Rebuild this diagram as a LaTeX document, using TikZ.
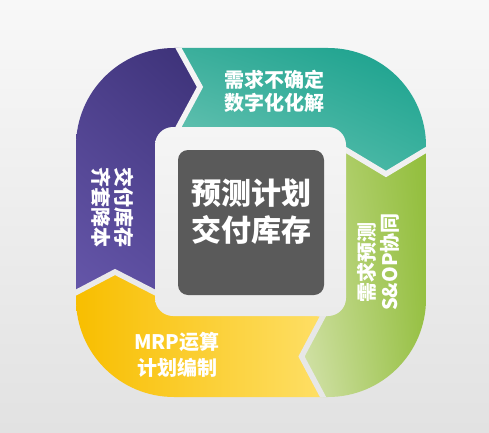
\documentclass[tikz,border=0pt]{standalone}
\usepackage{fontspec}
\usetikzlibrary{shadings}
\setmainfont{Noto Sans CJK SC}
\definecolor{bgtop}{HTML}{F8F8F8}
\definecolor{bgbot}{HTML}{E2E2E2}
\definecolor{darkbox}{HTML}{5A5A5A}
\definecolor{pUR}{HTML}{3C3177}
\definecolor{pUL}{HTML}{4A3D88}
\definecolor{pLL}{HTML}{6556A9}
\definecolor{pLR}{HTML}{5A4C9E}
\definecolor{tUR}{HTML}{17A08C}
\definecolor{tUL}{HTML}{3CAF9C}
\definecolor{tLL}{HTML}{72C8B8}
\definecolor{tLR}{HTML}{40B4A1}
\definecolor{gUL}{HTML}{BBD57C}
\definecolor{gLL}{HTML}{D5E3AE}
\definecolor{gUR}{HTML}{92BE3C}
\definecolor{gLR}{HTML}{98C146}
\definecolor{yL}{HTML}{F8BE00}
\definecolor{yM}{HTML}{FBC800}
\definecolor{yR}{HTML}{FEDF66}
\definecolor{gapA}{HTML}{F4F4F4}
\definecolor{gapB}{HTML}{F0F0F0}
\definecolor{gapC}{HTML}{E7E7E7}
\definecolor{gapD}{HTML}{EAEAEA}
\definecolor{frameT}{HTML}{F5F5F5}
\definecolor{frameB}{HTML}{EBEBEB}
\begin{document}
\begin{tikzpicture}[x=1pt,y=1pt,
  segtext/.style={text=white, font=\bfseries\fontsize{20}{23}\selectfont, align=center, inner sep=0pt},
  gapline/.style={line width=5.5pt, line join=miter, miter limit=20}]
\useasboundingbox (0,0) rectangle (489,432);
\shade[top color=bgtop, bottom color=bgbot] (0,0) rectangle (489,432);
\begin{scope}
  \clip[rounded corners=98pt] (76,35) rectangle (426,384);
  % purple
  \begin{scope}
    \clip (0,450) -- (178.5,450) -- (178.5,384) -- (200,345) -- (178.5,305) -- (178.5,139.5) -- (155,139.5) -- (115,160) -- (76,139.5) -- (0,139.5) -- cycle;
    \shade[upper left=pUL, upper right=pUR, lower left=pLL, lower right=pLR] (76,139) rectangle (200,384);
  \end{scope}
  % teal
  \begin{scope}
    \clip (178.5,450) -- (500,450) -- (500,282) -- (426,282) -- (386,258) -- (346,282) -- (178.5,282) -- (178.5,305) -- (200,345) -- (178.5,384) -- cycle;
    \shade[upper left=tUL, upper right=tUR, lower left=tLL, lower right=tLR] (178,258) rectangle (426,384);
  \end{scope}
  % green
  \begin{scope}
    \clip (500,282) -- (500,0) -- (322.5,0) -- (322.5,36) -- (301.5,75.5) -- (322.5,115) -- (346,282) -- (386,258) -- (426,282) -- cycle;
    \shade[upper left=gUL, upper right=gUR, lower left=gLL, lower right=gLR] (301,35) rectangle (426,282);
  \end{scope}
  % yellow
  \begin{scope}
    \clip (0,139.5) -- (76,139.5) -- (115,160) -- (155,139.5) -- (322.5,115) -- (301.5,75.5) -- (322.5,36) -- (322.5,0) -- (0,0) -- cycle;
    \shade[left color=yL, middle color=yM, right color=yR] (76,35) rectangle (323,161);
  \end{scope}
  % gaps between segments
  \draw[gapline, draw=gapA] (172,396) -- (178.5,384) -- (200,345) -- (178.5,305) -- (172,293);
  \draw[gapline, draw=gapB] (334,289) -- (346,282) -- (386,258) -- (426,282) -- (438,289);
  \draw[gapline, draw=gapC] (328.5,126) -- (322.5,115) -- (301.5,75.5) -- (322.5,36) -- (328.5,25);
  \draw[gapline, draw=gapD] (64,133) -- (76,139.5) -- (115,160) -- (155,139.5) -- (167,133);
\end{scope}
% inner frame and core box
\shade[rounded corners=18pt, top color=frameT, bottom color=frameB] (155,116) rectangle (346,305);
\node[fill=darkbox, rounded corners=10pt, minimum width=146pt, minimum height=145pt, inner sep=0pt] (core) at (251,209.5) {};
\node[text=white, font=\bfseries\fontsize{30}{37}\selectfont, align=center, inner sep=0pt] (coretext) at (251,220.5) {预测计划\\交付库存};
% segment labels
\node[segtext] (teallabel) at (274.5,341) {需求不确定\\数字化化解};
\node[segtext, rotate=90] (greenlabel) at (378.5,170) {需求预测\\S\&OP协同};
\node[segtext, font=\bfseries\fontsize{20}{26}\selectfont] (yellowlabel) at (177,77) {MRP运算\\计划编制};
\node[segtext, rotate=-90] (purplelabel) at (113,225) {交付库存\\齐套降本};
\end{tikzpicture}
\end{document}
